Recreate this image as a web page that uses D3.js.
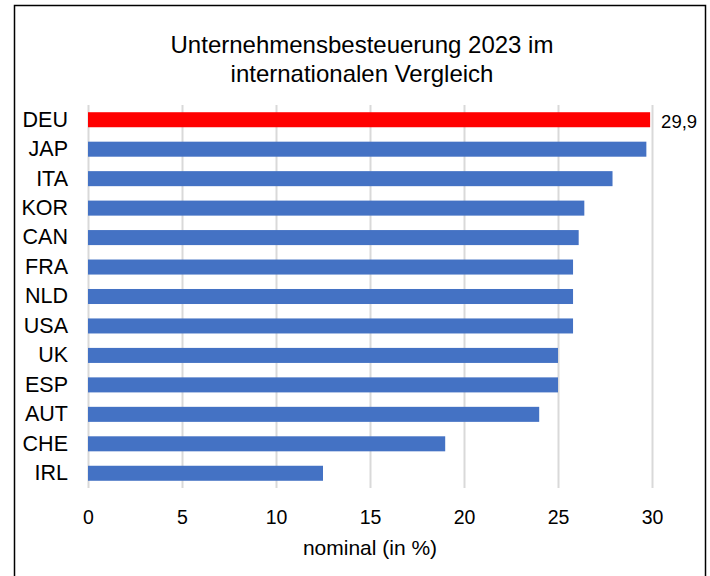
<!DOCTYPE html>
<html>
<head>
<meta charset="utf-8">
<script src="https://cdn.jsdelivr.net/npm/d3@7"></script>
<style>
  body { margin: 0; background: #fff; }
  svg { display: block; font-family: "Liberation Sans", Arial, sans-serif; }
</style>
</head>
<body>
<div id="chart"></div>
<script>
const countries = ['DEU', 'JAP', 'ITA', 'KOR', 'CAN', 'FRA', 'NLD', 'USA', 'UK', 'ESP', 'AUT', 'CHE', 'IRL'];
const rates = [29.9, 29.7, 27.9, 26.4, 26.1, 25.8, 25.8, 25.8, 25.0, 25.0, 24.0, 19.0, 12.5];
const xTicks = [0, 5, 10, 15, 20, 25, 30];
const titleLines = ['Unternehmensbesteuerung 2023 im', 'internationalen Vergleich'];
const axisTitle = 'nominal (in %)';

const width = 710;
const height = 576;
const margin = { top: 105, right: 58, bottom: 88, left: 88 };

const data = countries.map((c, i) => ({ country: c, value: rates[i] }));

const svg = d3.select('#chart')
  .append('svg')
  .attr('width', width)
  .attr('height', height)
  ;

// outer frame
svg.append('rect')
  .attr('x', 14.5)
  .attr('y', 5.5)
  .attr('width', 691)
  .attr('height', 600)
  .attr('fill', '#fff')
  .attr('stroke', '#000')
  .attr('stroke-width', 1.5)
  ;

const x = d3.scaleLinear()
  .domain([0, 30])
  .range([margin.left, width - margin.right])
  ;

const y = d3.scaleBand()
  .domain(countries)
  .range([margin.top, height - margin.bottom])
  .paddingInner(0.49)
  .paddingOuter(0.245)
  ;

// title
svg.append('text')
  .attr('x', 362)
  .attr('y', 53)
  .attr('text-anchor', 'middle')
  .style('font-size', '24px')
  .selectAll('tspan')
  .data(titleLines)
  .join('tspan')
  .attr('x', 362)
  .attr('dy', (d, i) => i === 0 ? 0 : 28.5)
  .text(d => d)
  ;

// gridlines
const gridAxis = d3.axisBottom(x)
  .tickValues(xTicks)
  .tickSize(-(height - margin.top - margin.bottom))
  .tickFormat('')
  ;

svg.append('g')
  .attr('transform', `translate(0,${height - margin.bottom})`)
  .call(gridAxis)
  .call(g => g.select('.domain').remove())
  .call(g => g.selectAll('line').attr('stroke', '#d9d9d9').attr('stroke-width', 2))
  ;

// tick labels
const xAxis = d3.axisBottom(x)
  .tickValues(xTicks)
  .tickSize(0)
  .tickPadding(22)
  .tickFormat(d3.format('d'))
  ;

svg.append('g')
  .attr('transform', `translate(0,${height - margin.bottom})`)
  .call(xAxis)
  .call(g => g.select('.domain').remove())
  .call(g => g.selectAll('text')
    .attr('fill', '#000')
    .style('font-size', '19.5px')
    .style('font-family', '"Liberation Sans", Arial, sans-serif'))
  ;

// category labels
const yAxis = d3.axisLeft(y)
  .tickSize(0)
  .tickPadding(20)
  ;

svg.append('g')
  .attr('transform', `translate(${margin.left},0)`)
  .call(yAxis)
  .call(g => g.select('.domain').remove())
  .call(g => g.selectAll('text')
    .attr('fill', '#000')
    .style('font-size', '21.5px')
    .style('font-family', '"Liberation Sans", Arial, sans-serif'))
  ;

// bars
svg.append('g')
  .selectAll('rect')
  .data(data)
  .join('rect')
  .attr('x', x(0))
  .attr('y', d => y(d.country))
  .attr('width', d => x(d.value) - x(0))
  .attr('height', y.bandwidth())
  .attr('fill', d => d.country === 'DEU' ? '#ff0000' : '#4472c4')
  ;

// value label for DEU
svg.append('text')
  .datum(data[0])
  .attr('x', d => x(d.value) + 11)
  .attr('y', d => y(d.country) + y.bandwidth() / 2 + 2)
  .attr('dy', '0.35em')
  .style('font-size', '18.5px')
  .text(d => d3.format('.1f')(d.value).replace('.', ','))
  ;

// axis title
svg.append('text')
  .attr('x', (x(0) + x(30)) / 2)
  .attr('y', 555)
  .attr('text-anchor', 'middle')
  .style('font-size', '21px')
  .text(axisTitle)
  ;
</script>
</body>
</html>
